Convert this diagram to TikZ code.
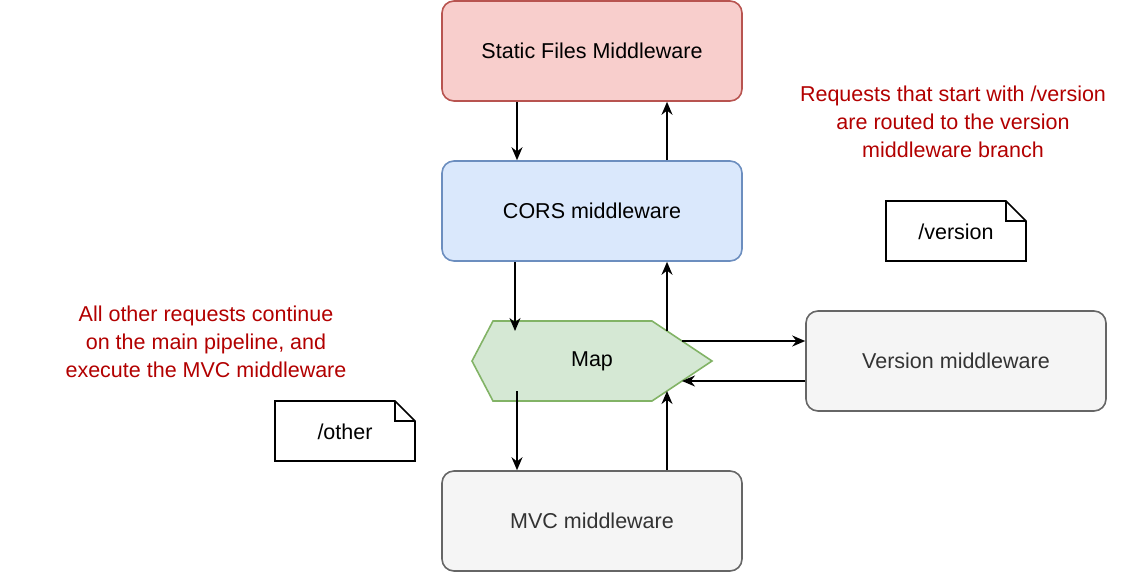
\documentclass[tikz,border=0pt]{standalone}
\usepackage{fontspec}
\setmainfont{Liberation Sans}
\usetikzlibrary{arrows.meta}
\definecolor{redF}{HTML}{F8CECC}\definecolor{redS}{HTML}{B85450}
\definecolor{bluF}{HTML}{DAE8FC}\definecolor{bluS}{HTML}{6C8EBF}
\definecolor{grnF}{HTML}{D5E8D4}\definecolor{grnS}{HTML}{82B366}
\definecolor{gryF}{HTML}{F5F5F5}\definecolor{gryS}{HTML}{666666}
\definecolor{gryT}{HTML}{333333}\definecolor{note}{HTML}{B20000}
\begin{document}
\begin{tikzpicture}[x=1pt,y=-1pt,
  fnt/.style={font=\fontsize{21.5}{26}\selectfont},
  box/.style={draw,rounded corners=12pt,minimum width=300pt,minimum height=100pt,line width=1.6pt,fnt},
  arr/.style={-{Stealth[length=13pt,width=11pt]},line width=1.6pt},
  rtxt/.style={text=note,align=center,font=\fontsize{21.5}{28}\selectfont}]
\useasboundingbox (0,0) rectangle (1148,574);
\node[box,fill=redF,draw=redS] (stat) at (592,51) {Static Files Middleware};
\node[box,fill=bluF,draw=bluS] (cors) at (592,211) {CORS middleware};
\node[box,fill=gryF,draw=gryS,text=gryT] (ver) at (956,361) {Version middleware};
\node[box,fill=gryF,draw=gryS,text=gryT] (mvc) at (592,521) {MVC middleware};
\draw[fill=grnF,draw=grnS,line width=1.6pt] (472,361)--(493,321)--(652,321)--(712,361)--(652,401)--(493,401)--cycle;
\node[fnt] (map) at (592,361) {Map};
\coordinate (mTL) at (515,331); \coordinate (mTR) at (667,331);
\coordinate (mBL) at (517,391); \coordinate (mBR) at (667,391);
\coordinate (mR1) at (682,341); \coordinate (mR2) at (682,381);
\draw[arr] (stat.south -| 517,0) -- (cors.north -| 517,0);
\draw[arr] (cors.north -| 667,0) -- (stat.south -| 667,0);
\draw[arr] (cors.south -| mTL) -- (mTL);
\draw[arr] (mTR) -- (cors.south -| mTR);
\draw[arr] (mR1) -- (ver.west |- mR1);
\draw[arr] (ver.west |- mR2) -- (mR2);
\draw[arr] (mBL) -- (mvc.north -| mBL);
\draw[arr] (mvc.north -| mBR) -- (mBR);
\draw[line width=1.6pt,fill=white] (886,201)--(1006,201)--(1026,221)--(1026,261)--(886,261)--cycle (1006,201)--(1006,221)--(1026,221);
\node[fnt] (nv) at (956,232) {/version};
\draw[line width=1.6pt,fill=white] (275,401)--(395,401)--(415,421)--(415,461)--(275,461)--cycle (395,401)--(395,421)--(415,421);
\node[fnt] (no) at (345,432) {/other};
\node[rtxt] (t1) at (953,122) {Requests that start with /version\\are routed to the version\\middleware branch};
\node[rtxt] (t2) at (206,342) {All other requests continue\\on the main pipeline, and\\execute the MVC middleware};
\end{tikzpicture}
\end{document}
